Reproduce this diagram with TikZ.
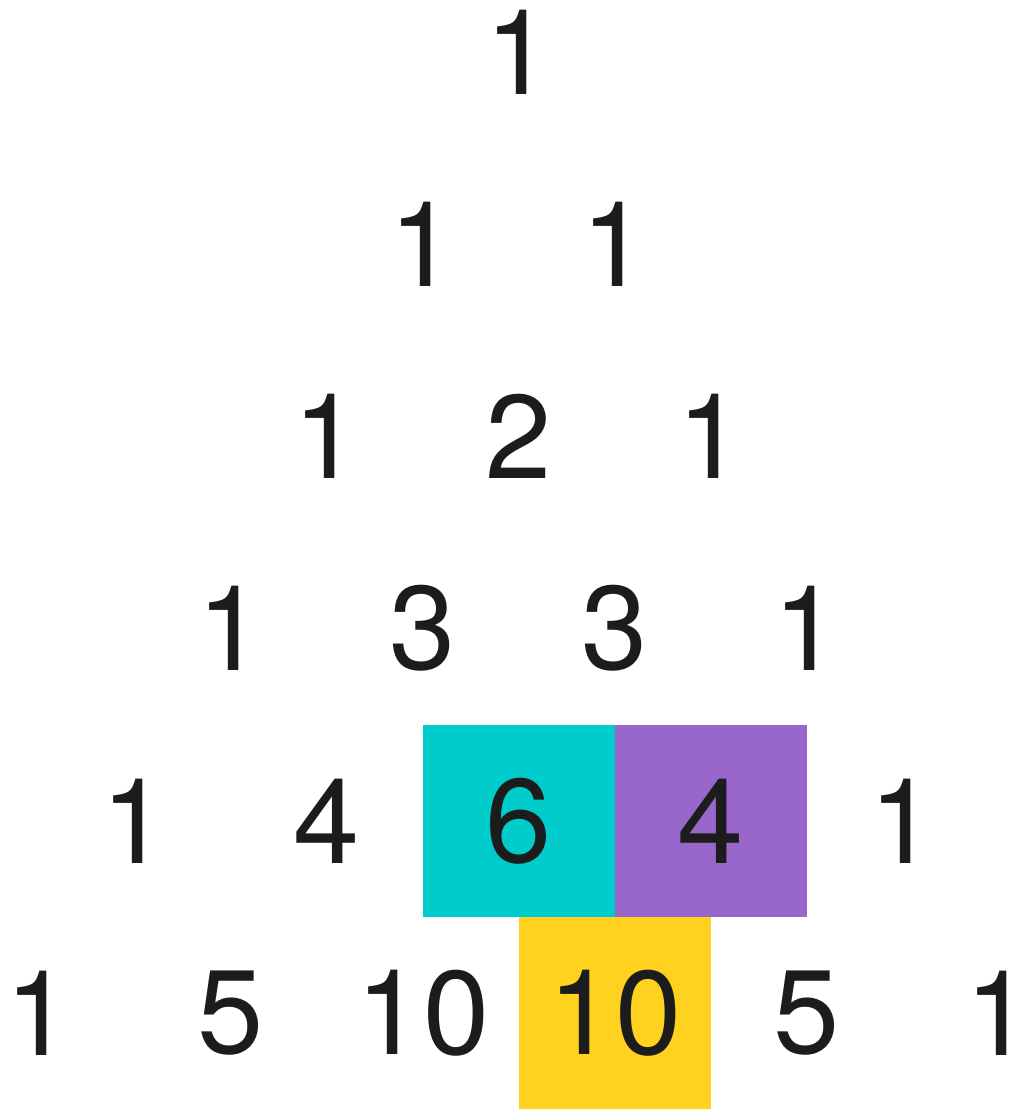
\documentclass[tikz,border=0pt]{standalone}
\usepackage{fontspec}
\setmainfont{TeX Gyre Heros}
\definecolor{ink}{HTML}{1C1C1C}
\definecolor{cyanbox}{HTML}{00CCCC}
\definecolor{purplebox}{HTML}{9966CC}
\definecolor{yellowbox}{HTML}{FFD21F}
\begin{document}
\begin{tikzpicture}[x=1pt,y=-1pt,
  num/.style={inner sep=0pt, text=ink, font=\fontsize{119}{119}\selectfont},
  cell/.style={num, minimum width=192pt, minimum height=192pt}]
\useasboundingbox (0,0) rectangle (1017,1109);
% row 0
\node[num] (r0c0) at (519,52.5) {1};
% row 1
\node[num] (r1c0) at (423,244.5) {1};
\node[num] (r1c1) at (615,244.5) {1};
% row 2
\node[num] (r2c0) at (327,436.5) {1};
\node[num] (r2c1) at (519,436.5) {2};
\node[num] (r2c2) at (711,436.5) {1};
% row 3
\node[num] (r3c0) at (231,628.5) {1};
\node[num] (r3c1) at (423,628.5) {3};
\node[num] (r3c2) at (615,628.5) {3};
\node[num] (r3c3) at (807,628.5) {1};
% row 4
\node[num] (r4c0) at (135,821) {1};
\node[num] (r4c1) at (327,821) {4};
\node[cell, fill=cyanbox] (r4c2) at (519,821) {6};
\node[cell, fill=purplebox] (r4c3) at (711,821) {4};
\node[num] (r4c4) at (903,821) {1};
% row 5
\node[num] (r5c0) at (39,1013) {1};
\node[num] (r5c1) at (231,1013) {5};
\node[num] (r5c2) at (423,1013) {10};
\node[cell, fill=yellowbox] (r5c3) at (615,1013) {10};
\node[num] (r5c4) at (807,1013) {5};
\node[num] (r5c5) at (999,1013) {1};
\end{tikzpicture}
\end{document}
